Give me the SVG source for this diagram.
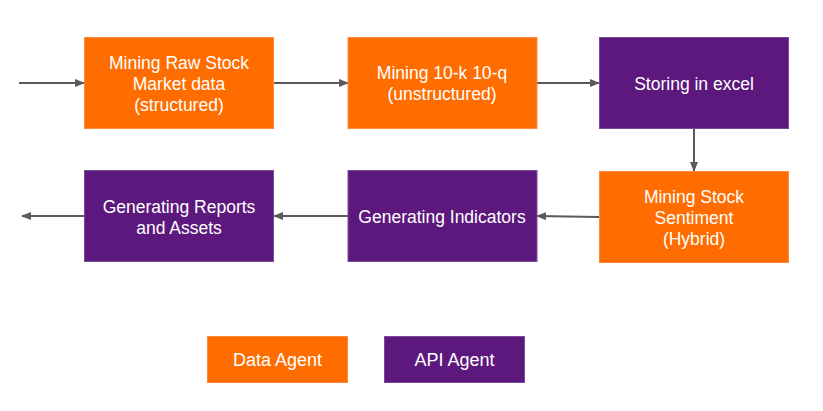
<svg xmlns="http://www.w3.org/2000/svg" width="823" height="411" viewBox="0 0 823 411">
<style>
.d{fill:#FF6D01;stroke:#FF8A3D;stroke-width:1}
.a{fill:#5C187C;stroke:#7A4A99;stroke-width:1}
text{font-family:"Liberation Sans",Arial,sans-serif;font-size:17.5px;fill:#ffffff;text-anchor:middle}
.c{stroke:#595959;stroke-width:2;fill:none;marker-end:url(#ah)}
</style>
<defs>
<marker id="ah" markerWidth="10" markerHeight="8" refX="9" refY="4" orient="auto" markerUnits="userSpaceOnUse">
<path d="M0,0 L10,4 L0,8 Z" fill="#595959"/>
</marker>
</defs>
<rect width="823" height="411" fill="#ffffff"/>
<g id="connectors">
<path class="c" d="M19,83 H84"/>
<path class="c" d="M274,83 H348"/>
<path class="c" d="M537,83 H599"/>
<path class="c" d="M694,129 V171"/>
<path class="c" d="M599,217 L537,216"/>
<path class="c" d="M348,216 H274"/>
<path class="c" d="M84,216 H22"/>
</g>
<g id="n1"><rect class="d" x="84.5" y="37.5" width="189" height="91"/>
<text x="179" y="68.5">Mining Raw Stock</text><text x="179" y="89.5">Market data</text><text x="179" y="110.5">(structured)</text></g>
<g id="n2"><rect class="d" x="348" y="37.5" width="189" height="91"/>
<text x="442" y="79">Mining 10-k 10-q</text><text x="442" y="100">(unstructured)</text></g>
<g id="n3"><rect class="a" x="599.5" y="37.5" width="189" height="91"/>
<text x="694" y="89.5">Storing in excel</text></g>
<g id="n4"><rect class="d" x="599.5" y="171.5" width="189" height="91"/>
<text x="694" y="202.5">Mining Stock</text><text x="694" y="223.5">Sentiment</text><text x="694" y="244.5">(Hybrid)</text></g>
<g id="n5"><rect class="a" x="348" y="170.5" width="189" height="91"/>
<text x="442" y="222.5">Generating Indicators</text></g>
<g id="n6"><rect class="a" x="84.5" y="170.5" width="189" height="91"/>
<text x="179" y="212.5">Generating Reports</text><text x="179" y="233.5">and Assets</text></g>
<g id="legend-data"><rect class="d" x="207.5" y="336.5" width="140" height="46"/>
<text x="277.5" y="365.5" style="font-size:18px">Data Agent</text></g>
<g id="legend-api"><rect class="a" x="384.5" y="336.5" width="140" height="46"/>
<text x="454.5" y="365.5" style="font-size:18px">API Agent</text></g>
</svg>
